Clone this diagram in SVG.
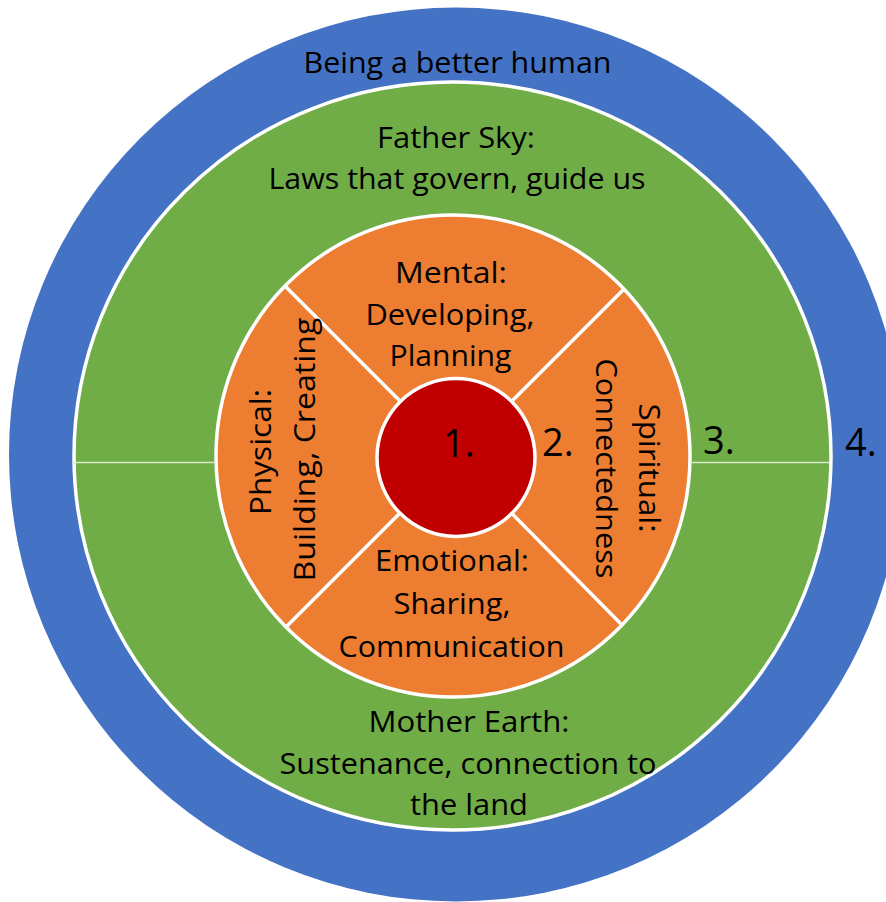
<svg xmlns="http://www.w3.org/2000/svg" width="886" height="902" viewBox="0 0 886 902">
<style>
.t{font-family:"Open Sans","Noto Sans","DejaVu Sans",sans-serif;font-size:30px;fill:#000}
.n{font-family:"Open Sans","Noto Sans","DejaVu Sans",sans-serif;font-size:38px;fill:#000}
.ring{stroke:#fff;stroke-width:3.5}
.div{stroke:#fff;stroke-width:3.5;fill:none}
.hl{stroke:#d9ead0;stroke-width:1.5;fill:none}
</style>
<rect width="886" height="902" fill="#fff"/>
<g id="ring4">
<circle cx="456" cy="454.5" r="447" fill="#4472C4"/>
</g>
<g id="ring3">
<ellipse class="ring" cx="452.5" cy="456" rx="378.5" ry="374" fill="#70AD47"/>
</g>
<g id="ring2">
<ellipse class="ring" cx="453" cy="456" rx="237" ry="241" fill="#ED7D31"/>
</g>
<g id="connectors">
<line class="hl" x1="72" y1="462.5" x2="216" y2="462.5"/>
<line class="hl" x1="690" y1="462.5" x2="830" y2="462.5"/>
<line class="div" x1="285" y1="286" x2="456" y2="457"/>
<line class="div" x1="624" y1="289" x2="456" y2="457"/>
<line class="div" x1="286" y1="627" x2="456" y2="457"/>
<line class="div" x1="621" y1="624" x2="456" y2="457"/>
</g>
<g id="ring1">
<circle class="ring" cx="456" cy="457.5" r="79" fill="#C00000"/>
<text class="n" x="443" y="457">1.</text>
</g>
<g id="label-outer">
<text class="t" x="303.5" y="73" textLength="308" lengthAdjust="spacingAndGlyphs">Being a better human</text>
<text class="n" x="845" y="456">4.</text>
</g>
<g id="label-father-sky">
<text class="t" x="377" y="148" textLength="158" lengthAdjust="spacingAndGlyphs">Father Sky:</text>
<text class="t" x="268.5" y="189" textLength="377" lengthAdjust="spacingAndGlyphs">Laws that govern, guide us</text>
</g>
<g id="label-mother-earth">
<text class="t" x="368.5" y="732" textLength="201" lengthAdjust="spacingAndGlyphs">Mother Earth:</text>
<text class="t" x="279.5" y="773.5" textLength="377" lengthAdjust="spacingAndGlyphs">Sustenance, connection to</text>
<text class="t" x="410" y="815" textLength="118" lengthAdjust="spacingAndGlyphs">the land</text>
<text class="n" x="703" y="454">3.</text>
</g>
<g id="quadrant-mental">
<text class="t" x="395" y="283" textLength="112" lengthAdjust="spacingAndGlyphs">Mental:</text>
<text class="t" x="365.5" y="325" textLength="169" lengthAdjust="spacingAndGlyphs">Developing,</text>
<text class="t" x="389.5" y="366" textLength="122" lengthAdjust="spacingAndGlyphs">Planning</text>
</g>
<g id="quadrant-emotional">
<text class="t" x="375" y="571" textLength="154" lengthAdjust="spacingAndGlyphs">Emotional:</text>
<text class="t" x="393.5" y="614" textLength="117" lengthAdjust="spacingAndGlyphs">Sharing,</text>
<text class="t" x="338.5" y="657" textLength="226" lengthAdjust="spacingAndGlyphs">Communication</text>
</g>
<g id="quadrant-physical">
<text class="t" transform="translate(271,515) rotate(-90)" x="0" y="0" textLength="126" lengthAdjust="spacingAndGlyphs">Physical:</text>
<text class="t" transform="translate(315,581.5) rotate(-90)" x="0" y="0" textLength="264" lengthAdjust="spacingAndGlyphs">Building, Creating</text>
</g>
<g id="quadrant-spiritual">
<text class="t" transform="translate(639,403.5) rotate(90)" x="0" y="0" textLength="129" lengthAdjust="spacingAndGlyphs">Spiritual:</text>
<text class="t" transform="translate(596,358.5) rotate(90)" x="0" y="0" textLength="220" lengthAdjust="spacingAndGlyphs">Connectedness</text>
<text class="n" x="542" y="456">2.</text>
</g>
</svg>
